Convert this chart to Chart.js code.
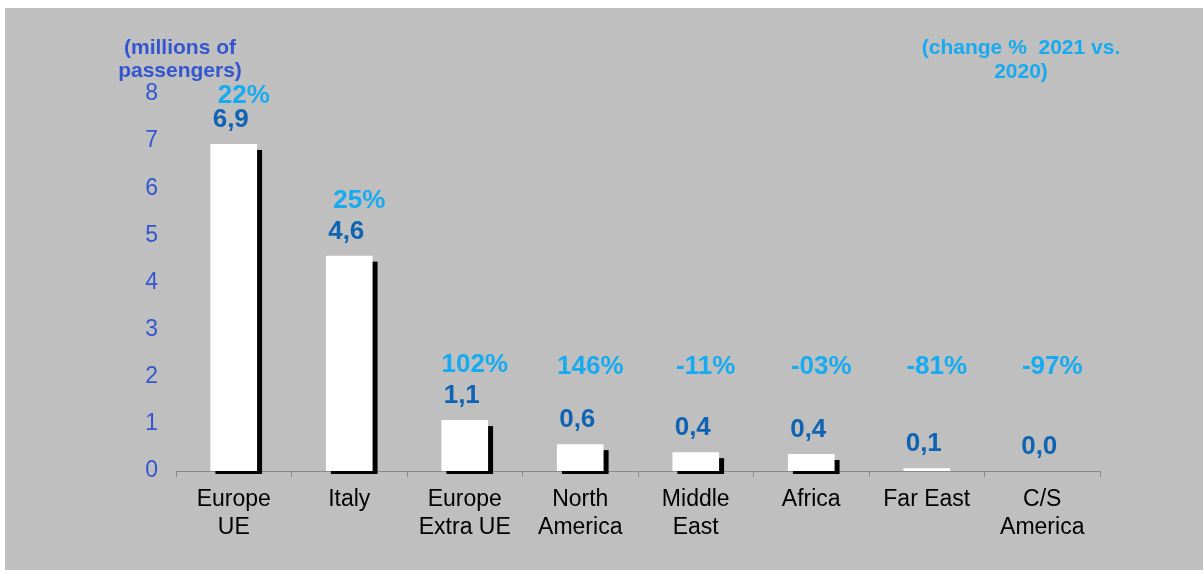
<!DOCTYPE html>
<html>
<head>
<meta charset="utf-8">
<title>Passengers by region</title>
<script src="https://cdn.jsdelivr.net/npm/chart.js@4.4.1/dist/chart.umd.min.js"></script>
<style>
  html, body { margin: 0; padding: 0; background: #ffffff; }
  #wrap { position: absolute; left: 5px; top: 8px; width: 1198px; height: 562px; background: #bfbfbf; }
</style>
</head>
<body>
<div id="wrap"><canvas id="chBars" width="1198" height="562"></canvas></div>
<script>
var regions = [['Europe', 'UE'], 'Italy', ['Europe', 'Extra UE'], ['North', 'America'], ['Middle', 'East'], 'Africa', 'Far East', ['C/S', 'America']];
var passengers = [6.94, 4.57, 1.08, 0.57, 0.40, 0.36, 0.06, 0.0];
var changes = ['22%', '25%', '102%', '146%', '-11%', '-03%', '-81%', '-97%'];
var yTicks = [0, 1, 2, 3, 4, 5, 6, 7, 8];

var fontFamily = '"Liberation Sans", Arial, sans-serif';
var tickBlue = '#3356d0';
var valueBlue = '#0e63b3';
var changeBlue = '#16abf0';

// black drop shadow behind each white bar
var barShadow = {
  id: 'barShadow',
  beforeDatasetsDraw: function(chart) {
    var ctx = chart.ctx;
    ctx.save();
    ctx.fillStyle = '#000000';
    chart.getDatasetMeta(0).data.forEach(function(bar) {
      var h = bar.base - bar.y - 6;
      if (h <= 0) return;
      ctx.fillRect(bar.x - bar.width / 2 + 5, bar.y + 6, bar.width, h + 3);
    });
    ctx.restore();
  }
};

// value and % change labels above bars, plus the two axis captions
var barLabels = {
  id: 'barLabels',
  afterDatasetsDraw: function(chart) {
    var ctx = chart.ctx;
    var top = chart.chartArea.top;
    ctx.save();
    ctx.textAlign = 'center';
    ctx.textBaseline = 'alphabetic';
    ctx.font = 'bold 26px ' + fontFamily;
    chart.getDatasetMeta(0).data.forEach(function(bar, i) {
      ctx.fillStyle = valueBlue;
      ctx.fillText(passengers[i].toFixed(1).replace('.', ','), bar.x - 3, bar.y - 17);
      ctx.fillStyle = changeBlue;
      var cy = Math.max(Math.min(bar.y - 48, 366), top + 9);
      ctx.fillText(changes[i], bar.x + 10, cy);
    });

    ctx.font = 'bold 21px ' + fontFamily;
    ctx.fillStyle = tickBlue;
    ctx.fillText('(millions of', 175, 46);
    ctx.fillText('passengers)', 175, 69);
    ctx.fillStyle = changeBlue;
    ctx.fillText('(change %  2021 vs.', 1016, 46);
    ctx.fillText('2020)', 1016, 70);
    ctx.restore();
  }
};

new Chart(document.getElementById('chBars'), {
  type: 'bar',
  data: {
    labels: regions,
    datasets: [{
      data: passengers,
      backgroundColor: '#ffffff',
      borderWidth: 0,
      barPercentage: 0.404,
      categoryPercentage: 1.0
    }]
  },
  options: {
    responsive: false,
    animation: false,
    layout: { padding: { top: 86, right: 103, bottom: 0, left: 0 } },
    plugins: {
      legend: { display: false },
      tooltip: { enabled: false }
    },
    scales: {
      x: {
        afterFit: function(scale) { scale.height = 99; },
        border: { display: true, color: '#8a8a8a', width: 1 },
        grid: { display: true, drawOnChartArea: false, drawTicks: true, tickLength: 6, color: '#8a8a8a', offset: true },
        ticks: {
          color: '#000000',
          padding: 9,
          maxRotation: 0,
          autoSkip: false,
          font: { family: fontFamily, size: 23, lineHeight: 1.2 }
        }
      },
      y: {
        min: 0,
        max: 8,
        afterFit: function(scale) { scale.width = 171; },
        afterBuildTicks: function(scale) {
          scale.ticks = yTicks.map(function(v) { return { value: v }; });
        },
        border: { display: false },
        grid: { display: false, drawTicks: false },
        ticks: {
          color: tickBlue,
          padding: 18,
          font: { family: fontFamily, size: 23 }
        }
      }
    }
  },
  plugins: [barShadow, barLabels]
});
</script>
</body>
</html>
